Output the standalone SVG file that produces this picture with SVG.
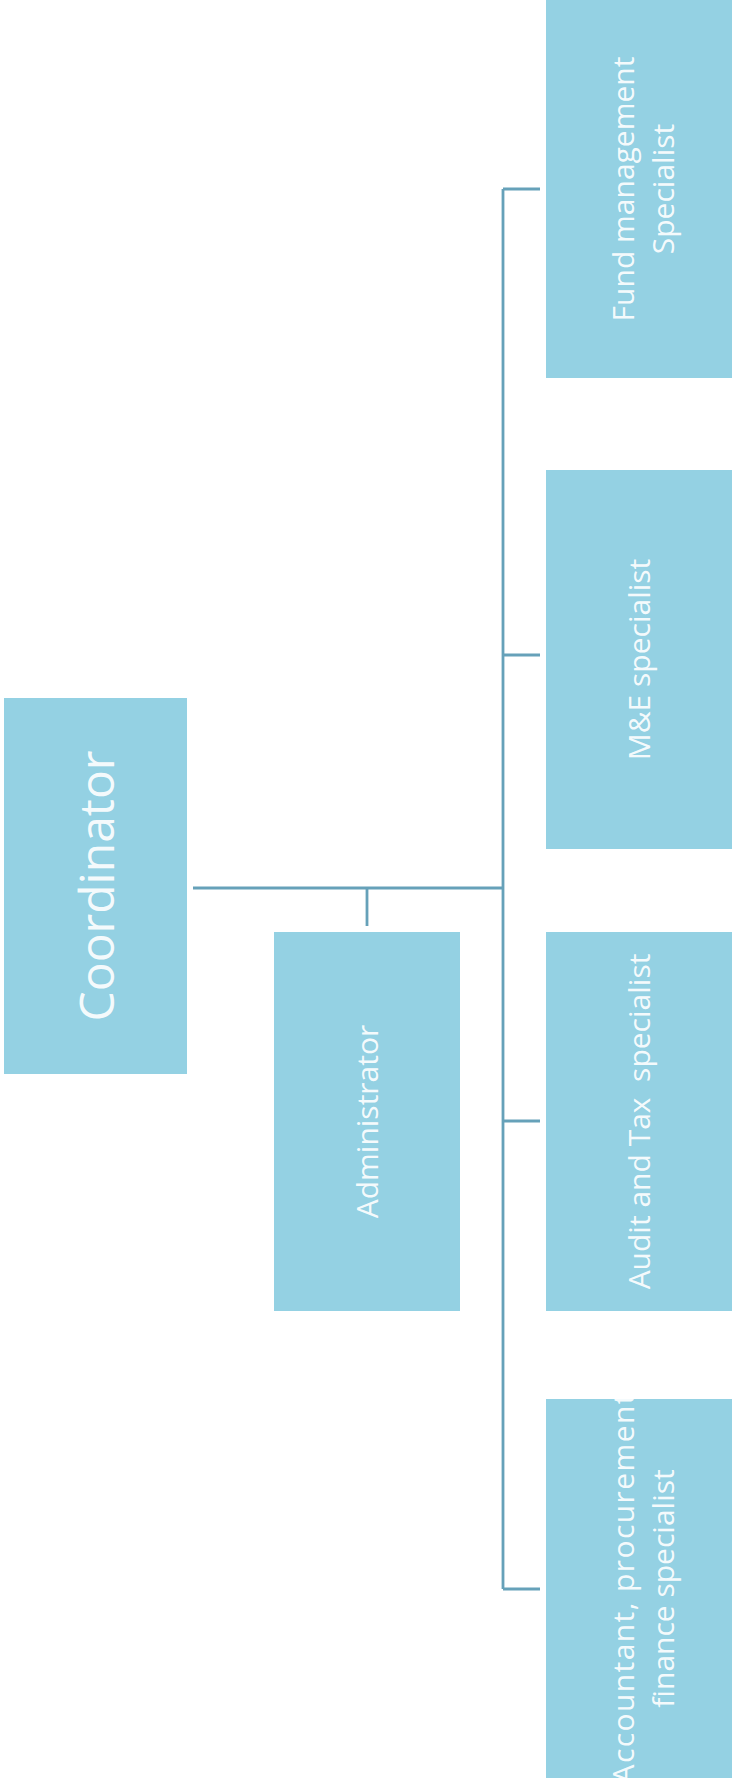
<svg xmlns="http://www.w3.org/2000/svg" width="732" height="1784" viewBox="0 0 732 1784">
  <defs>
    <style>
      .box { fill: #94d1e3; }
      .lbl { fill: #ffffff; fill-opacity: 0.93; font-family: "Open Sans", "Liberation Sans", sans-serif; text-anchor: middle; }
      .big { font-size: 48px; }
      .sm { font-size: 30px; }
      .conn { stroke: #66a1b9; stroke-width: 2.8; fill: none; }
    </style>
    <clipPath id="clipAcc"><rect x="546" y="1399" width="186" height="379"/></clipPath>
  </defs>
  <rect width="732" height="1784" fill="#ffffff"/>

  <g id="connectors">
    <path class="conn" d="M193 888 H503"/>
    <path class="conn" d="M367 888 V926"/>
    <path class="conn" d="M503 189 V1589"/>
    <path class="conn" d="M503 189 H540"/>
    <path class="conn" d="M503 655 H540"/>
    <path class="conn" d="M503 1121 H540"/>
    <path class="conn" d="M503 1589 H540"/>
  </g>

  <g id="coordinator">
    <rect class="box" x="4" y="698" width="183" height="376"/>
    <text class="lbl big" transform="translate(95.5 886) rotate(-90)" x="0" y="18">Coordinator</text>
  </g>

  <g id="administrator">
    <rect class="box" x="274" y="932" width="186" height="379"/>
    <text class="lbl sm" transform="translate(367 1121.5) rotate(-90)" x="0" y="11">Administrator</text>
  </g>

  <g id="fund-management">
    <rect class="box" x="546" y="0" width="186" height="378"/>
    <text class="lbl sm" transform="translate(639 189) rotate(-90)" x="0" y="-5">Fund management</text>
    <text class="lbl sm" transform="translate(639 189) rotate(-90)" x="0" y="35">Specialist</text>
  </g>

  <g id="me-specialist">
    <rect class="box" x="546" y="470" width="186" height="379"/>
    <text class="lbl sm" transform="translate(639 659.5) rotate(-90)" x="0" y="11">M&amp;E specialist</text>
  </g>

  <g id="audit-tax">
    <rect class="box" x="546" y="932" width="186" height="379"/>
    <text class="lbl sm" transform="translate(639 1121.5) rotate(-90)" x="0" y="11" style="white-space:pre">Audit and Tax  specialist</text>
  </g>

  <g id="accountant">
    <rect class="box" x="546" y="1399" width="186" height="379"/>
    <g clip-path="url(#clipAcc)">
      <text class="lbl sm" transform="translate(639 1588.5) rotate(-90)" x="0" y="-5" textLength="390" lengthAdjust="spacing">Accountant, procurement</text>
      <text class="lbl sm" transform="translate(639 1588.5) rotate(-90)" x="0" y="35">finance specialist</text>
    </g>
  </g>
</svg>
